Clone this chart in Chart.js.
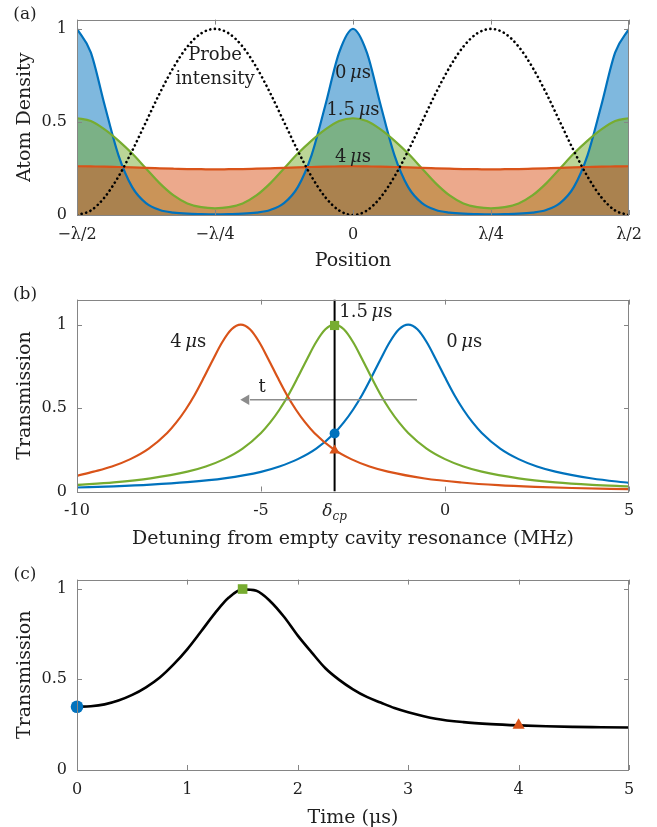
<!DOCTYPE html>
<html><head><meta charset="utf-8">
<script src="https://cdn.jsdelivr.net/npm/chart.js@4.4.1/dist/chart.umd.min.js"></script>
<style>
html,body{margin:0;padding:0;width:657px;height:827px;overflow:hidden;background:#fff}
.p{position:absolute;left:0;width:657px;height:280px}
canvas{display:block}
</style></head><body>
<div class="p" style="top:0"><canvas id="ca" width="657" height="280"></canvas></div>
<div class="p" style="top:280px"><canvas id="cb" width="657" height="280"></canvas></div>
<div class="p" style="top:560px"><canvas id="cc" width="657" height="280"></canvas></div>
<script>
// ---------- Panel (a): atom density vs position ----------
const posX = [-0.5,-0.475,-0.45,-0.425,-0.4,-0.375,-0.35,-0.325,-0.3,-0.275,-0.25,-0.225,-0.2,-0.175,-0.15,-0.125,-0.1,-0.075,-0.05,-0.025,0,0.025,0.05,0.075,0.1,0.125,0.15,0.175,0.2,0.225,0.25,0.275,0.3,0.325,0.35,0.375,0.4,0.425,0.45,0.475,0.5];
const posTicks = [-0.5,-0.25,0,0.25,0.5];
const posTickLabels = ['\u2212\u03bb/2','\u2212\u03bb/4','0','\u03bb/4','\u03bb/2'];
const density0us = [1,0.874,0.591,0.322,0.150,0.064,0.027,0.013,0.007,0.005,0.004,0.005,0.007,0.013,0.027,0.064,0.150,0.322,0.591,0.874,1,0.874,0.591,0.322,0.150,0.064,0.027,0.013,0.007,0.005,0.004,0.005,0.007,0.013,0.027,0.064,0.150,0.322,0.591,0.874,1];
const density15us = [0.52,0.505,0.46,0.40,0.33,0.25,0.17,0.105,0.062,0.042,0.036,0.042,0.062,0.105,0.17,0.25,0.33,0.40,0.46,0.505,0.52,0.505,0.46,0.40,0.33,0.25,0.17,0.105,0.062,0.042,0.036,0.042,0.062,0.105,0.17,0.25,0.33,0.40,0.46,0.505,0.52];
const density4us = [0.262,0.261,0.260,0.258,0.256,0.253,0.251,0.249,0.247,0.246,0.245,0.246,0.247,0.249,0.251,0.253,0.256,0.258,0.260,0.261,0.262,0.261,0.260,0.258,0.256,0.253,0.251,0.249,0.247,0.246,0.245,0.246,0.247,0.249,0.251,0.253,0.256,0.258,0.260,0.261,0.262];
const probeIntensity = [0,0.024,0.095,0.206,0.345,0.5,0.655,0.794,0.905,0.976,1,0.976,0.905,0.794,0.655,0.5,0.345,0.206,0.095,0.024,0,0.024,0.095,0.206,0.345,0.5,0.655,0.794,0.905,0.976,1,0.976,0.905,0.794,0.655,0.5,0.345,0.206,0.095,0.024,0];

// ---------- Panel (b): transmission vs detuning ----------
const blueDetX = [-10,-9,-8,-7,-6,-5,-4.5,-4,-3.5,-3,-2.75,-2.5,-2.25,-2,-1.75,-1.5,-1.25,-1,-0.75,-0.5,-0.25,0,0.25,0.5,0.75,1,1.5,2,2.5,3,4,5];
const blueTrans = [0.024,0.031,0.041,0.056,0.079,0.118,0.150,0.194,0.257,0.351,0.414,0.490,0.580,0.684,0.793,0.896,0.972,1,0.972,0.896,0.793,0.684,0.580,0.490,0.414,0.351,0.257,0.194,0.150,0.119,0.078,0.052];
const greenDetX = [-10,-9,-8,-7,-6.5,-6,-5.5,-5,-4.75,-4.5,-4.25,-4,-3.75,-3.5,-3.25,-3,-2.75,-2.5,-2.25,-2,-1.75,-1.5,-1.25,-1,-0.5,0,0.5,1,2,3,4,5];
const greenTrans = [0.040,0.055,0.079,0.119,0.150,0.194,0.257,0.351,0.414,0.490,0.580,0.684,0.793,0.896,0.972,1,0.972,0.896,0.793,0.684,0.580,0.490,0.414,0.351,0.257,0.194,0.150,0.119,0.079,0.055,0.040,0.030];
const orangeDetX = [-10,-9.55,-9.05,-8.55,-8.05,-7.55,-7.3,-7.05,-6.8,-6.55,-6.3,-6.05,-5.8,-5.55,-5.3,-5.05,-4.8,-4.55,-4.3,-4.05,-3.8,-3.55,-3.05,-2.55,-2.05,-1.55,-0.55,0.45,1.45,2.45,3.45,5];
const orangeTrans = [0.094,0.119,0.150,0.194,0.257,0.351,0.414,0.490,0.580,0.684,0.793,0.896,0.972,1,0.972,0.896,0.793,0.684,0.580,0.490,0.414,0.351,0.257,0.194,0.150,0.119,0.078,0.054,0.038,0.028,0.021,0.014];
const detTicks = [-10,-5,0,5];
const deltaCp = -3;
const markerTransB = [0.348, 0.995, 0.245];   // blue, green, orange at delta_cp
const arrowX = [-0.76, -5.4];
const arrowY = 0.55;

// ---------- Panel (c): transmission vs time ----------
const timeUs = [0,0.125,0.25,0.375,0.5,0.625,0.75,0.875,1,1.125,1.25,1.375,1.5,1.625,1.75,1.875,2,2.125,2.25,2.375,2.5,2.625,2.75,2.875,3,3.25,3.5,3.75,4,4.25,4.5,4.75,5];
const transTime = [0.349,0.352,0.362,0.383,0.414,0.456,0.51,0.582,0.667,0.765,0.865,0.951,0.996,0.988,0.931,0.845,0.741,0.649,0.561,0.497,0.445,0.403,0.372,0.342,0.319,0.283,0.264,0.253,0.246,0.241,0.238,0.236,0.234];
const timeTicks = [0,1,2,3,4,5];
const markerTimes = [0, 1.5, 4];
const markerTransC = [0.349, 0.998, 0.247];
const transTicks = [0, 0.5, 1];

// ---------- styling ----------
const BLUE = '#0072BD', ORANGE = '#D95319', GREEN = '#77AC30';
const BLUE_F = 'rgba(0,114,189,0.5)', ORANGE_F = 'rgba(217,83,25,0.5)', GREEN_F = 'rgba(119,172,48,0.5)';
const FAM = '"DejaVu Serif", serif';
const TXT = '#1f1f1f';
const R = s => s + 'px ' + FAM;
const I = s => 'italic ' + s + 'px ' + FAM;

function pts(xs, ys) { return xs.map((x, i) => ({x: x, y: ys[i]})); }

function drawRich(ctx, parts, x, y, align) {
  ctx.textBaseline = 'middle';
  ctx.textAlign = 'left';
  let w = 0;
  parts.forEach(p => { ctx.font = p[1]; w += ctx.measureText(p[0]).width; });
  let sx = align === 'left' ? x : x - w / 2;
  parts.forEach(p => { ctx.font = p[1]; ctx.fillText(p[0], sx, y + (p[2] || 0)); sx += ctx.measureText(p[0]).width; });
}
const mus = (n, s) => [[n + '\u2009', R(s)], ['\u03bc', I(s)], ['s', R(s)]];

const framePlugin = {
  id: 'frame',
  afterDatasetsDraw(chart) {
    const {ctx, chartArea: a, scales: {x, y}} = chart;
    ctx.save();
    ctx.strokeStyle = '#858585'; ctx.lineWidth = 1;
    ctx.beginPath();
    x.ticks.forEach(t => {
      const p = Math.round(x.getPixelForValue(t.value)) + 0.5;
      ctx.moveTo(p, a.bottom); ctx.lineTo(p, a.bottom - 5);
      ctx.moveTo(p, a.top); ctx.lineTo(p, a.top + 5);
    });
    y.ticks.forEach(t => {
      const p = Math.round(y.getPixelForValue(t.value)) + 0.5;
      ctx.moveTo(a.left, p); ctx.lineTo(a.left + 5, p);
      ctx.moveTo(a.right, p); ctx.lineTo(a.right - 5, p);
    });
    ctx.stroke();
    ctx.strokeRect(Math.round(a.left) + 0.5, Math.round(a.top) + 0.5, Math.round(a.right - a.left) - 1, Math.round(a.bottom - a.top));
    ctx.restore();
  }
};

function notesPlugin(panelLabel, notes, extra) {
  return {
    id: 'notes',
    afterDraw(chart) {
      const {ctx, scales: {x, y}} = chart;
      ctx.save();
      ctx.fillStyle = TXT;
      drawRich(ctx, [[panelLabel, R(17)]], 25, 15);
      notes.forEach(n => drawRich(ctx, n.parts, x.getPixelForValue(n.x), y.getPixelForValue(n.y)));
      if (extra) extra(chart, ctx);
      ctx.restore();
    }
  };
}

function makeOptions(o) {
  return {
    responsive: false,
    animation: false,
    layout: {padding: {left: 0, right: 28, top: o.padTop, bottom: 0}},
    plugins: {legend: {display: false}, tooltip: {enabled: false}, filler: {drawTime: 'beforeDatasetsDraw'}},
    elements: {point: {radius: 0}},
    scales: {
      x: {
        type: 'linear', min: o.xMin, max: o.xMax,
        afterBuildTicks: s => { s.ticks = o.xTicks.map(v => ({value: v})); },
        afterFit: s => { s.height = o.xH; },
        grid: {display: false, drawTicks: false, tickLength: 0},
        border: {display: false},
        ticks: {padding: 10, maxRotation: 0, autoSkip: false, color: TXT, font: {family: FAM, size: 16},
                callback: o.xCb || (v => String(v))},
        title: {display: true, text: o.xTitle, color: TXT, font: {family: FAM, size: 19},
                padding: {top: 0, bottom: o.xTitlePad}}
      },
      y: {
        type: 'linear', min: 0, max: o.yMax,
        afterBuildTicks: s => { s.ticks = transTicks.map(v => ({value: v})); },
        afterFit: s => { s.width = 77; },
        grid: {display: false, drawTicks: false, tickLength: 0},
        border: {display: false},
        ticks: {padding: 10, color: TXT, font: {family: FAM, size: 16}, callback: v => String(v)},
        title: {display: true, text: o.yTitle, color: TXT, font: {family: FAM, size: 19},
                padding: {top: 13.5, bottom: 0}}
      }
    }
  };
}

// ---------- Chart (a) ----------
new Chart(document.getElementById('ca'), {
  type: 'line',
  data: {datasets: [
    {data: pts(posX, probeIntensity), borderColor: '#000', borderWidth: 2.6, borderDash: [0.1, 4.6], borderCapStyle: 'round', fill: false, cubicInterpolationMode: 'monotone', order: 0},
    {data: pts(posX, density4us), borderColor: ORANGE, backgroundColor: ORANGE_F, borderWidth: 2.2, fill: 'origin', cubicInterpolationMode: 'monotone', order: 1},
    {data: pts(posX, density15us), borderColor: GREEN, backgroundColor: GREEN_F, borderWidth: 2.2, fill: 'origin', cubicInterpolationMode: 'monotone', order: 2},
    {data: pts(posX, density0us), borderColor: BLUE, backgroundColor: BLUE_F, borderWidth: 2.2, fill: 'origin', cubicInterpolationMode: 'monotone', order: 3}
  ]},
  options: makeOptions({padTop: 12, xMin: -0.5, xMax: 0.5, xTicks: posTicks, xH: 65, xTitlePad: 7.6,
      xCb: v => posTickLabels[posTicks.indexOf(v)], xTitle: 'Position', yMax: 1.05, yTitle: 'Atom Density'}),
  plugins: [framePlugin, notesPlugin('(a)', [
    {x: -0.25, y: 0.86, parts: [['Probe', R(18)]]},
    {x: -0.25, y: 0.73, parts: [['intensity', R(18)]]},
    {x: 0, y: 0.76, parts: mus('0', 18)},
    {x: 0, y: 0.56, parts: mus('1.5', 18)},
    {x: 0, y: 0.31, parts: mus('4', 18)}
  ])]
});

// ---------- Chart (b) ----------
new Chart(document.getElementById('cb'), {
  type: 'line',
  data: {datasets: [
    {data: [{x: deltaCp, y: markerTransB[0]}], showLine: false, pointStyle: 'circle', pointRadius: 5, backgroundColor: BLUE, borderColor: BLUE, borderWidth: 0, order: 0, clip: false},
    {data: [{x: deltaCp, y: markerTransB[1]}], showLine: false, pointStyle: 'rect', pointRadius: 6.5, backgroundColor: GREEN, borderColor: GREEN, borderWidth: 0, order: 0, clip: false},
    {data: [{x: deltaCp, y: markerTransB[2]}], showLine: false, pointStyle: 'triangle', pointRadius: 6, backgroundColor: ORANGE, borderColor: ORANGE, borderWidth: 0, order: 0, clip: false},
    {data: [{x: deltaCp, y: 0}, {x: deltaCp, y: 1.15}], borderColor: '#000', borderWidth: 2, fill: false, order: 1},
    {data: [{x: arrowX[0], y: arrowY}, {x: arrowX[1] + 0.1, y: arrowY}], borderColor: '#8c8c8c', borderWidth: 1.6, fill: false, order: 2},
    {data: [{x: arrowX[1], y: arrowY}], showLine: false, pointStyle: 'triangle', pointRotation: -90, pointRadius: 6, backgroundColor: '#8c8c8c', borderWidth: 0, order: 2},
    {data: pts(orangeDetX, orangeTrans), borderColor: ORANGE, borderWidth: 2.2, fill: false, cubicInterpolationMode: 'monotone', order: 3},
    {data: pts(greenDetX, greenTrans), borderColor: GREEN, borderWidth: 2.2, fill: false, cubicInterpolationMode: 'monotone', order: 4},
    {data: pts(blueDetX, blueTrans), borderColor: BLUE, borderWidth: 2.2, fill: false, cubicInterpolationMode: 'monotone', order: 5}
  ]},
  options: makeOptions({padTop: 8, xMin: -10, xMax: 5, xTicks: detTicks, xH: 68.5, xTitlePad: 9.9,
      xTitle: 'Detuning from empty cavity resonance (MHz)', yMax: 1.15, yTitle: 'Transmission'}),
  plugins: [framePlugin, notesPlugin('(b)', [
    {x: -6.98, y: 0.896, parts: mus('4', 18)},
    {x: -2.15, y: 1.075, parts: mus('1.5', 18)},
    {x: 0.52, y: 0.896, parts: mus('0', 18)},
    {x: -4.97, y: 0.625, parts: [['t', R(18)]]}
  ], (chart, ctx) => {
    const px = chart.scales.x.getPixelForValue(deltaCp);
    const py = chart.chartArea.bottom + 20;
    drawRich(ctx, [['\u03b4', I(17)], ['cp', I(12), 5]], px, py);
  })]
});

// ---------- Chart (c) ----------
new Chart(document.getElementById('cc'), {
  type: 'line',
  data: {datasets: [
    {data: [{x: markerTimes[0], y: markerTransC[0]}], showLine: false, pointStyle: 'circle', pointRadius: 6.3, backgroundColor: BLUE, borderWidth: 0, order: 0, clip: false},
    {data: [{x: markerTimes[1], y: markerTransC[1]}], showLine: false, pointStyle: 'rect', pointRadius: 6.8, backgroundColor: GREEN, borderWidth: 0, order: 0, clip: false},
    {data: [{x: markerTimes[2], y: markerTransC[2]}], showLine: false, pointStyle: 'triangle', pointRadius: 7, backgroundColor: ORANGE, borderWidth: 0, order: 0, clip: false},
    {data: pts(timeUs, transTime), borderColor: '#000', borderWidth: 2.6, fill: false, cubicInterpolationMode: 'monotone', order: 1}
  ]},
  options: makeOptions({padTop: 7, xMin: 0, xMax: 5, xTicks: timeTicks, xH: 70, xTitlePad: 10.9,
      xTitle: 'Time (\u03bcs)', yMax: 1.05, yTitle: 'Transmission'}),
  plugins: [framePlugin, notesPlugin('(c)', [])]
});
</script>
</body></html>
